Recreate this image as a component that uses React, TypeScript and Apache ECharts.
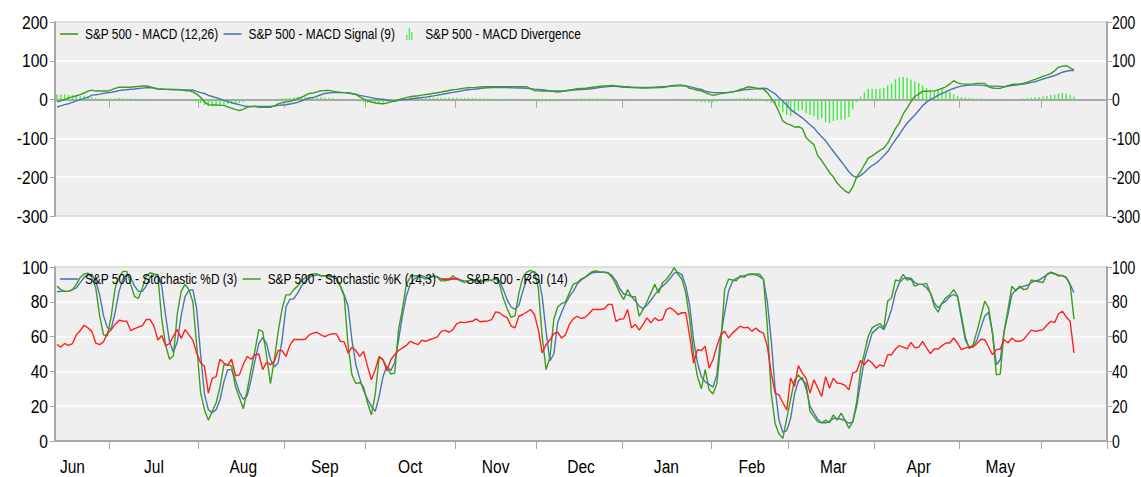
import React, { useEffect, useRef } from 'react';
import * as echarts from 'echarts';

// ---------- axis labels ----------
const monthLabels = ['Jun', 'Jul', 'Aug', 'Sep', 'Oct', 'Nov', 'Dec', 'Jan', 'Feb', 'Mar', 'Apr', 'May'];
const monthLabelIdx = [4, 25, 48, 69, 91, 113, 135, 157, 179, 200, 222, 243];
const monthStartIdx = [14, 37, 59, 80, 103, 124, 146, 169, 189, 211, 233, 254];
const firstDay = '2019-06-11';
const lastDay = '2020-06-23';

// ---------- MACD panel ----------
const macd = [
  -6, -3, 0, 4.4, 7, 10, 13, 17, 22, 24.6,
  22, 22, 22, 22, 25, 29, 31.7, 32, 32, 31.7,
  33, 34, 35, 35.2, 33, 30, 27, 26.4, 26.4, 26.4,
  26.4, 26.4, 25, 23, 22.9, 20, 14, 6, -6, -13,
  -14, -14, -15, -15, -19, -22, -26, -28, -25, -19.4,
  -18, -16.7, -20, -20, -20, -20, -16, -11, -8, -6,
  -5, -1, 2.6, 6, 11, 15.8, 17, 20, 22.9, 23.3,
  23.8, 22, 20, 18.5, 18, 17.6, 15, 13.2, 7, 2,
  -3.5, -6, -8.8, -10, -10.6, -9, -6, -4, 0, 2.6,
  5, 7.5, 8.8, 10, 11.4, 13, 14.5, 16.5, 17.6, 19.5,
  21.5, 23.5, 25.5, 26.4, 28, 29.5, 30.5, 30.8, 31.5, 32.5,
  33.2, 33.4, 33.4, 33.4, 33.4, 33.4, 33.4, 33.4, 33.4, 33.4,
  33.4, 33, 28, 22.9, 22.5, 22, 22, 22, 20.5, 19.4,
  21, 23, 24.6, 26, 28, 29, 29, 30.5, 32, 33,
  34.5, 35.5, 36, 36.5, 35.5, 34.5, 33.5, 33, 32, 31,
  30.5, 30, 30, 30.5, 30.5, 31, 31, 33, 35, 36.5,
  37, 37.3, 35, 29, 27, 24, 22.4, 18, 14, 11,
  13, 15.4, 17, 18.5, 19.8, 22, 26, 28.6, 33, 32,
  30, 28, 27, 18, 4, -11, -32, -55, -62, -65,
  -70.6, -70, -74, -98, -108, -116, -145, -157, -172, -188,
  -199, -215, -226, -235, -241, -225, -200, -186, -168, -151,
  -145, -138, -131, -125, -112, -94, -75, -60, -37, -22,
  -5, 8, 14, 21.6, 21.6, 21.8, 22.4, 25, 29, 33,
  40, 48.7, 43, 40.5, 40, 40, 40.5, 41.7, 41.7, 41.7,
  33, 30, 29, 29, 33, 36, 39, 39.5, 40, 42,
  45, 48.7, 52, 56, 60, 63, 67, 74, 83.8, 86,
  87.3, 82, 76.8,
];
const macdSignal = [
  -19, -16, -13, -10.6, -7, -3.5, 0, 3, 6, 11.4,
  12.5, 14, 16, 17.6, 19, 21, 23, 24.6, 25.5, 26.5,
  27.3, 28.5, 29.5, 30.5, 30.8, 29.5, 28, 27.3, 26.5, 26,
  25.5, 25, 24.6, 24.6, 24.6, 24.6, 21, 18, 15.8, 11,
  8, 5, 1.5, -1.8, -5, -8, -10.6, -13, -16, -17.6,
  -17.6, -17.6, -17.6, -17.6, -17.6, -17.6, -16.5, -15, -14, -13.2,
  -11.5, -9.5, -7, -3, 1, 4, 5.3, 9, 12.5, 15.8,
  17, 18, 18.3, 18.5, 18, 17, 15.8, 14, 11, 9,
  7, 5, 3, 1.5, 0.9, -1.5, -3, -4.4, -2, -0.5,
  0, 1.5, 3, 4.3, 5.3, 6.5, 8, 9.5, 11.4, 13,
  15, 17, 18.5, 20.2, 22, 24, 25.5, 26.4, 27.5, 28.5,
  29.8, 30.5, 30.8, 30.8, 30.8, 30.8, 30.8, 30.5, 30.2, 30,
  29.9, 29, 28, 27, 26.4, 25.5, 24, 22.5, 22, 22,
  22, 22, 23, 24.5, 25.5, 26, 26.5, 27.5, 28.5, 30,
  31.5, 32.5, 33.5, 34.5, 34, 33, 32, 31.5, 31, 31,
  31, 31, 31, 31.5, 32, 32.5, 33, 33.5, 34.5, 35,
  35.5, 35.6, 35, 33.5, 31, 28, 26, 22, 19.5, 18,
  18, 18, 18, 18, 20, 22, 23.5, 25, 26, 27,
  27.6, 28.5, 29.4, 28, 21, 15, 5, -4, -14, -26,
  -33, -40, -47, -56, -65, -73, -85, -96, -106, -120,
  -133, -146, -159, -172, -186, -196, -201, -196, -188, -178,
  -170, -164, -155, -145, -134, -118, -104, -90, -75, -61,
  -50, -40, -28, -16, -6.5, 0, 5, 11, 16, 20,
  25, 28.6, 32, 34.7, 36.5, 37.3, 37.3, 37.3, 37.3, 36,
  34.7, 34.7, 34.7, 34, 33, 34.5, 36.5, 37.5, 39, 40,
  42, 44.5, 46, 49.5, 53, 56, 59, 62, 66, 70.6,
  73, 75, 75,
];
const macdDivergence = [
  13, 13, 13, 12, 12, 11, 10, 9, 8, 6,
  4, 3, 2, 2, 3, 3, 4, 3, 3, 3,
  2, 2, 2, 2, 1, 0, -1, 0, 0, 0,
  0, 1, 0, 0, -1, -2, -5, -9, -14, -17,
  -17, -16, -15, -13, -12, -11, -10, -8, -6, -3,
  -1, 0, -1, -1, -1, 0, 1, 2, 3, 4,
  5, 6, 7, 7, 7, 7, 7, 6, 6, 5,
  4, 3, 2, 1, 1, 0, -1, -2, -4, -6,
  -8, -9, -9, -9, -8, -6, -4, -2, 1, 2,
  3, 4, 4, 5, 5, 5, 5, 5, 5, 5,
  5, 5, 5, 5, 4, 4, 4, 4, 3, 3,
  3, 3, 2, 2, 2, 2, 2, 2, 2, 2,
  2, 1, -2, -4, -5, -5, -5, -5, -5, -4,
  -2, 0, 1, 2, 3, 3, 3, 3, 3, 3,
  3, 3, 2, 2, 1, 1, 1, 1, 1, 0,
  0, 0, 0, 0, 0, 0, 1, 1, 1, 2,
  2, 2, 0, -3, -4, -5, -6, -7, -8, -7,
  -5, -2, 1, 2, 2, 3, 3, 4, 4, 4,
  3, 2, 1, -5, -8, -11, -20, -33, -40, -42,
  -36, -28, -27, -35, -40, -42, -52, -48, -58, -61,
  -55, -53, -52, -51, -45, -25, -6, 8, 18, 28,
  27, 28, 28, 30, 37, 42, 52, 57, 58, 56,
  52, 46, 43, 36, 30, 26, 24, 27, 28, 24,
  20, 14, 9, 6, 5, 4, 3, 3, 3, 2,
  0, -1, -2, -2, -1, 0, 1, 1, 2, 3,
  4, 5, 6, 7, 8, 10, 11, 13, 15, 17,
  15, 12, 8,
];

// ---------- Stochastic / RSI panel ----------
const stochD = [
  85.8, 86, 86, 86, 87, 88, 91, 94, 95.5, 95.8,
  92, 84, 72, 65, 64.5, 74, 86, 93, 95.8, 94,
  89, 86, 86, 89, 94, 95.5, 95.8, 89, 72, 57,
  51, 57, 72, 83, 86.5, 87, 76, 50, 27, 18,
  16.3, 18, 23.7, 34, 41, 41, 35, 28, 24, 26,
  35, 46, 56, 59.6, 56, 47, 42.5, 45, 58, 77,
  81.5, 81.7, 85, 89, 92, 94, 95, 95.5, 95, 95,
  95, 94.5, 94, 89, 84, 77.5, 58, 44, 36, 29,
  24, 20, 17, 25.6, 37, 42.9, 40.5, 45, 58, 72,
  83.3, 90, 93, 94.8, 95, 94, 94, 94.5, 94.5, 93,
  92.5, 92.5, 93.5, 93.5, 92.5, 92, 92, 92.5, 92.5, 92,
  92, 92, 92.5, 93, 92, 87, 81, 77, 75.6, 78,
  86, 93, 96.5, 97.5, 95, 83, 63, 46, 50, 68,
  74, 79, 83, 86, 90, 92.5, 94, 95.5, 96.7, 97,
  97, 97, 96.5, 95, 92, 87.5, 84.5, 84, 83, 80.5,
  77.5, 76, 78, 81, 84, 87, 89, 91, 93.5, 96.5,
  97, 95.5, 89, 78, 58, 45, 37, 34, 32.5, 31,
  38, 60, 73.7, 86, 91.5, 93.5, 94.2, 95, 95.5, 95.8,
  95.5, 94.5, 93, 80, 58, 30, 12, 5, 6, 13,
  27, 34.5, 36.5, 30, 20, 16, 12.5, 10.5, 10.5, 11.2,
  13, 13, 12.5, 11.7, 10.2, 11, 19.8, 33.3, 46.7, 54.4,
  62, 64, 66, 64, 69, 75.6, 85.2, 91, 93.3, 93.8,
  93.5, 91, 90, 90, 88, 85.2, 79.4, 76.5, 79, 80.4,
  83, 84.2, 83, 70, 58, 54, 54.5, 58, 65, 71.7,
  74, 62, 43.8, 46.7, 63, 73, 84, 87, 88, 89,
  89.5, 91, 92, 92.5, 94, 95.5, 96.7, 96, 95.4, 95,
  93.8, 90, 85.2,
];
const stochK = [
  89, 87, 86, 86, 87, 90, 94, 96, 96.5, 94,
  88, 72, 61, 60.5, 72, 88, 94, 97.5, 97.5, 90,
  83, 82, 88, 95, 96.7, 96, 95, 70, 55, 47,
  49, 73, 86, 90, 87, 80, 55, 28, 18, 12,
  17, 22, 31, 43.8, 44, 43, 31, 25, 18.5, 29,
  41, 52, 64, 63, 49, 33, 46.7, 63, 76, 84,
  84, 87, 89, 92, 94, 95.5, 96, 96, 95, 95,
  94.5, 94, 93, 89, 83, 55, 38, 33, 33.6, 31,
  22, 15, 27, 48, 46.7, 42, 38.5, 39, 64, 76,
  90, 94, 95, 95, 94, 93, 94, 95, 94, 92,
  92, 93, 95, 93, 92, 91, 92, 93, 92, 91,
  92, 93, 92, 94, 90, 82, 76, 71, 72, 85,
  94, 97, 98, 97, 88, 60, 41, 48, 70, 77,
  79, 80, 85, 90, 91, 93, 94, 96, 97.5, 97.7,
  97, 97, 96.7, 94, 90, 85, 81.3, 87, 83, 83,
  71.7, 75.6, 80, 85, 90, 85, 91, 93, 95.8, 99.6,
  95.8, 93, 85, 70, 50, 37, 30, 41, 29.4, 27,
  33, 56, 87, 93, 92.5, 92, 95, 94, 95.8, 96,
  96, 95.8, 93, 66, 27.5, 10, 4, 1.5, 13, 24,
  35, 38, 35, 33, 17, 14, 11, 10.5, 12, 10.5,
  15, 12, 16, 12, 7.3, 11, 22, 41, 50.6, 60.2,
  65, 66.5, 67.5, 65, 80.4, 82.3, 92.5, 92, 95.8, 92.5,
  93, 89, 90, 90, 90.6, 85, 77.5, 74, 79.4, 82.3,
  84, 87, 83.3, 72, 60, 53, 55.4, 63, 71.7, 80.4,
  76.5, 62, 38, 38.5, 63, 75.6, 89, 86.2, 89, 87,
  87.5, 92.5, 92, 91.5, 91, 95.8, 97.1, 96.3, 94.8, 95.2,
  94, 90, 70,
];
const rsi = [
  55.4, 54, 56, 55, 56, 61, 63.5, 66.5, 65, 63,
  56.3, 55.4, 57, 62, 64, 67, 69.4, 69, 68.8, 63.5,
  64.6, 65.5, 66.3, 69.8, 69.8, 66, 58, 60.6, 54.8, 56,
  60.2, 64, 59, 64, 61, 58, 50.6, 45, 42.9, 27.5,
  36, 37, 47, 44.8, 43.3, 47, 37.5, 38, 44, 48.6,
  47, 49.6, 50, 41, 45.2, 43.8, 45.8, 52, 52, 48.6,
  55, 58.3, 58.3, 58.3, 58.5, 61, 62, 62.5, 61, 60,
  61, 61.7, 61.5, 57.3, 57, 50.5, 54, 52, 48.6, 51.5,
  43, 35.2, 41, 48.6, 46.7, 40.4, 46.7, 49.6, 52, 53.5,
  54.8, 57.3, 56.3, 55.4, 57.9, 57.3, 58.3, 58.8, 59.8, 63,
  63.6, 62.5, 64, 67.5, 68.3, 68, 68.5, 68.8, 70.2, 68.5,
  68.8, 69, 69.8, 74.2, 73.7, 72, 70.8, 66, 65, 71.7,
  72.7, 74, 75.6, 72.7, 64, 50.6, 55.4, 58, 61.7, 62.5,
  59.2, 61, 67, 70.2, 71.7, 70.5, 71, 73, 75.6, 75.6,
  75.6, 76, 78.5, 78.5, 68.8, 70, 70.2, 75.6, 65, 67,
  63.7, 67, 70.8, 67.9, 70.8, 69.2, 69.8, 75.6, 76.5, 75,
  72.7, 73.7, 73.7, 60.2, 44.8, 52.5, 52, 54.4, 41.9, 46.7,
  54.4, 61, 63, 59.2, 62, 64, 66, 65, 65.4, 63,
  65, 63, 62, 54.4, 39, 27.5, 26.5, 22, 17.9, 36.2,
  31.3, 43.3, 39, 36, 27.5, 35.2, 30.4, 25.6, 37, 30.4,
  36, 33.3, 33, 32, 29.4, 39, 40, 46.3, 43.8, 46.7,
  44.8, 41.9, 43.8, 42.9, 49.6, 49.6, 52.9, 54.8, 54, 52.9,
  56.7, 53.5, 54, 57.3, 53.5, 50.2, 52.9, 52.9, 54.8, 56.3,
  56.3, 59.2, 56.3, 52.5, 53.5, 54, 54, 56, 58.3, 58.3,
  54, 49.6, 52.5, 52.9, 58.3, 56.3, 59.2, 57.3, 57.3, 58.3,
  61, 63.7, 63, 63.5, 64, 66.5, 68.8, 68, 73, 74.6,
  71.3, 68.8, 50.6,
];

const macdRange = { min: -300, max: 200, interval: 100 };
const oscRange = { min: 0, max: 100, interval: 20 };

const names = {
  macd: 'S&P 500 - MACD (12,26)',
  signal: 'S&P 500 - MACD Signal (9)',
  div: 'S&P 500 - MACD Divergence',
  d: 'S&P 500 - Stochastic %D (3)',
  k: 'S&P 500 - Stochastic %K (14,3)',
  rsi: 'S&P 500 - RSI (14)',
};

const GREEN = '#3f9c1f';
const BLUE = '#4a76b0';
const RED = '#ff2020';
const BARGREEN = '#44ea44';
const AXIS_GREY = '#a8a8a8';
const FONT = 'Liberation Sans';
const NARROW = 0.82; // emulate a condensed face
const W = 1141;
const H = 477;
const GRID_LEFT = 55;
const GRID_RIGHT = 34;

function weekdaysBetween(start: string, end: string): string[] {
  const out: string[] = [];
  const d = new Date(start + 'T00:00:00Z');
  const e = new Date(end + 'T00:00:00Z');
  while (d.getTime() <= e.getTime()) {
    const wd = d.getUTCDay();
    if (wd !== 0 && wd !== 6) out.push(d.toISOString().slice(0, 10));
    d.setUTCDate(d.getUTCDate() + 1);
  }
  return out;
}

export default function App() {
  const ref = useRef<HTMLDivElement>(null);

  useEffect(() => {
    if (!ref.current) return;
    const chart = echarts.init(ref.current, undefined, { renderer: 'svg' });
    const categories = weekdaysBetween(firstDay, lastDay);
    const tickSet = new Set(monthStartIdx);

    const gridBase = {
      left: GRID_LEFT,
      right: GRID_RIGHT,
      show: true,
      backgroundColor: '#efefef',
      borderColor: '#000000',
      borderWidth: 1,
      containLabel: false,
    };

    const xAxisFor = (g: number) => ({
      type: 'category',
      gridIndex: g,
      data: categories,
      boundaryGap: true,
      axisLine: { show: true, lineStyle: { color: AXIS_GREY, width: 2 } },
      axisTick: {
        show: true,
        interval: (i: number) => tickSet.has(i),
        length: 8,
        lineStyle: { color: AXIS_GREY, width: 1 },
      },
      axisLabel: { show: false },
      splitLine: { show: false },
    });

    const yAxisFor = (g: number, pos: 'left' | 'right', range: { min: number; max: number; interval: number }) => ({
      type: 'value',
      gridIndex: g,
      position: pos,
      min: range.min,
      max: range.max,
      interval: range.interval,
      axisLine: { show: true, lineStyle: { color: AXIS_GREY, width: 2 } },
      axisTick: { show: true, length: 5, lineStyle: { color: AXIS_GREY, width: 1 } },
      axisLabel: { show: false },
      splitLine: pos === 'left' ? { show: true, lineStyle: { color: '#ffffff', width: 1.5 } } : { show: false },
    });

    const lineSeries = (name: string, data: number[], color: string, xi: number, yi: number, z: number) => ({
      type: 'line',
      name,
      data,
      xAxisIndex: xi,
      yAxisIndex: yi,
      showSymbol: false,
      symbol: 'none',
      lineStyle: { color, width: 1.4 },
      itemStyle: { color },
      color,
      z,
      silent: true,
    });

    chart.setOption({
      animation: false,
      grid: [
        { ...gridBase, top: 22, height: 194 },
        { ...gridBase, top: 267, height: 174 },
      ],
      xAxis: [xAxisFor(0), xAxisFor(1)],
      yAxis: [
        yAxisFor(0, 'left', macdRange),
        yAxisFor(0, 'right', macdRange),
        yAxisFor(1, 'left', oscRange),
        yAxisFor(1, 'right', oscRange),
      ],
      series: [
        {
          type: 'bar',
          name: names.div,
          data: macdDivergence,
          xAxisIndex: 0,
          yAxisIndex: 0,
          barWidth: 1.4,
          itemStyle: { color: BARGREEN },
          color: BARGREEN,
          z: 1,
          silent: true,
        },
        lineSeries(names.macd, macd, GREEN, 0, 0, 3),
        lineSeries(names.signal, macdSignal, BLUE, 0, 0, 2),
        lineSeries(names.d, stochD, BLUE, 1, 2, 2),
        lineSeries(names.k, stochK, GREEN, 1, 2, 3),
        lineSeries(names.rsi, rsi, RED, 1, 2, 4),
      ],
    });

    // ----- condensed text (axis labels + legends) as graphic text -----
    const ctx = document.createElement('canvas').getContext('2d');
    const measure = (t: string, size: number) => {
      if (!ctx) return t.length * size * 0.5;
      ctx.font = `${size}px "${FONT}"`;
      return ctx.measureText(t).width * NARROW;
    };
    const txt = (text: string, x: number, y: number, size: number, align: string, sx = NARROW) => ({
      type: 'text',
      x,
      y,
      scaleX: sx,
      silent: true,
      z: 100,
      style: {
        text,
        fontFamily: FONT,
        fontSize: size,
        fill: '#000000',
        align,
        textAlign: align,
        verticalAlign: 'middle',
        textVerticalAlign: 'middle',
      },
    });

    const graphics: any[] = [];
    const AX_SIZE = 19;
    const yAxes: [number, { min: number; max: number; interval: number }][] = [
      [0, macdRange],
      [2, oscRange],
    ];
    yAxes.forEach(([yi, r]) => {
      for (let v = r.min; v <= r.max; v += r.interval) {
        const py = chart.convertToPixel({ yAxisIndex: yi }, v) as number;
        graphics.push(txt(String(v), GRID_LEFT - 7, py, AX_SIZE, 'right'));
        // right-hand labels: slightly tighter so they stay inside the canvas
        graphics.push(txt(String(v), W - GRID_RIGHT + 5, py, 18, 'left', 0.78));
      }
    });
    monthLabelIdx.forEach((idx, k) => {
      const px = chart.convertToPixel({ xAxisIndex: 1 }, idx) as number;
      graphics.push(txt(monthLabels[k], px, 466, AX_SIZE, 'center'));
    });

    const LEG_SIZE = 14.5;
    const legend = (
      y: number,
      items: { name: string; color: string; kind: 'line' | 'bars' }[]
    ) => {
      let x = 60;
      items.forEach((it) => {
        if (it.kind === 'line') {
          graphics.push({
            type: 'rect',
            silent: true,
            z: 100,
            shape: { x, y: y - 0.8, width: 18, height: 1.6 },
            style: { fill: it.color },
          });
        } else {
          const bars = [
            [x + 6, 5],
            [x + 8.5, 12],
            [x + 11, 8],
          ];
          bars.forEach(([bx, bh]) =>
            graphics.push({
              type: 'rect',
              silent: true,
              z: 100,
              shape: { x: bx, y: y + 6 - bh, width: 1.2, height: bh },
              style: { fill: it.color },
            })
          );
        }
        x += 18 + 7;
        graphics.push(txt(it.name, x, y, LEG_SIZE, 'left'));
        x += measure(it.name, LEG_SIZE) + 5;
      });
    };
    legend(34, [
      { name: names.macd, color: GREEN, kind: 'line' },
      { name: names.signal, color: BLUE, kind: 'line' },
      { name: names.div, color: BARGREEN, kind: 'bars' },
    ]);
    legend(279, [
      { name: names.d, color: BLUE, kind: 'line' },
      { name: names.k, color: GREEN, kind: 'line' },
      { name: names.rsi, color: RED, kind: 'line' },
    ]);

    chart.setOption({ graphic: graphics });

    return () => chart.dispose();
  }, []);

  return (
    <div
      ref={ref}
      style={{ position: 'fixed', left: 0, top: 0, width: W, height: H, background: '#ffffff' }}
    />
  );
}
